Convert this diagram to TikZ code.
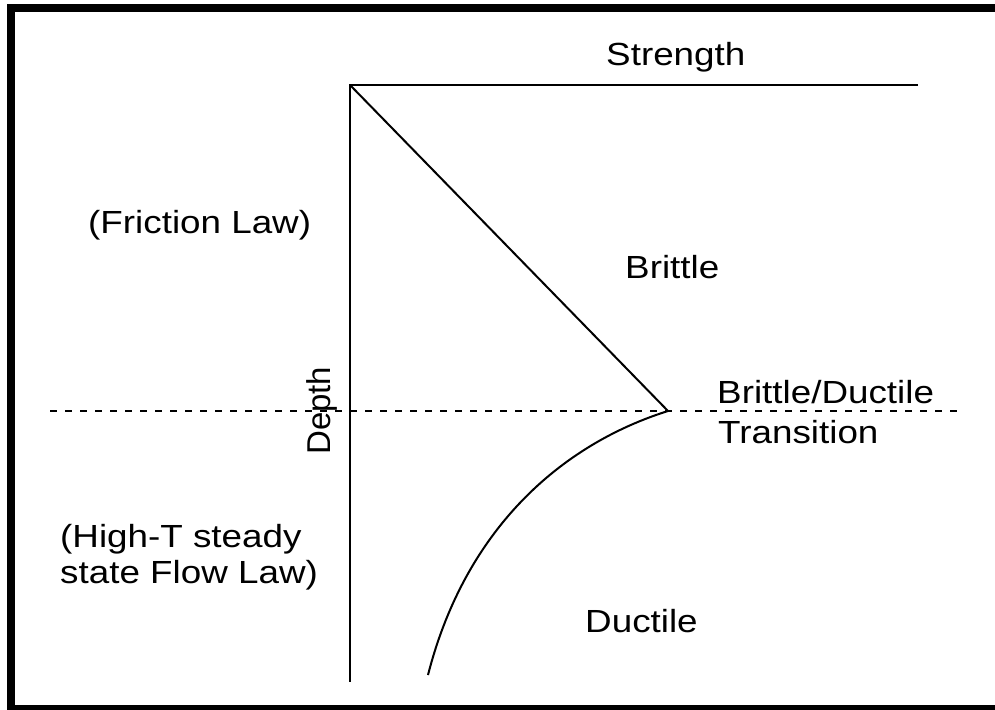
\documentclass[tikz,border=0pt]{standalone}
\usepackage{fontspec}
\setmainfont{Liberation Sans}
\begin{document}
\begin{tikzpicture}[x=1bp,y=-1bp,
  axisline/.style={line width=2bp,line join=miter},
  label/.style={font=\fontsize{32bp}{36bp}\selectfont,inner sep=0pt,xscale=1.15,anchor=base west},
  labelv/.style={font=\fontsize{33bp}{36bp}\selectfont,inner sep=0pt,rotate=90,anchor=base west}]
\useasboundingbox (0,0) rectangle (995,710);
\fill[white] (0,0) rectangle (995,710);
% outer frame (open on the right)
\draw[line width=8bp,line join=miter] (1000,8) -- (11,8) -- (11,709) -- (1000,709);
% axes
\coordinate (O) at (350,85);
\coordinate (S) at (918,85);
\coordinate (D) at (350,682);
\coordinate (T) at (668,411);
\coordinate (E) at (428,675);
\coordinate (L) at (50,411);
\coordinate (R) at (958,411);
\draw[axisline] (S) -- (O) -- (D);
% brittle branch
\draw[axisline] (O) -- (T);
% ductile branch
\draw[axisline] (T) .. controls (560,445) and (465,530) .. (E);
% transition depth
\draw[line width=2bp,dash pattern=on 7bp off 8bp] (L) -- (R);
% labels
\node[label] (str) at (606,66) {Strength};
\node[label] (fric) at (88,233) {(Friction Law)};
\node[label] (brit) at (625,278) {Brittle};
\node[label] (bdt1) at (717,403) {Brittle/Ductile};
\node[label] (bdt2) at (718,443) {Transition};
\node[labelv] (dep) at (330,455) {Depth};
\node[label] (ht1) at (60,547) {(High-T steady};
\node[label] (ht2) at (60,583) {state Flow Law)};
\node[label] (duc) at (585,632) {Ductile};
\end{tikzpicture}
\end{document}
